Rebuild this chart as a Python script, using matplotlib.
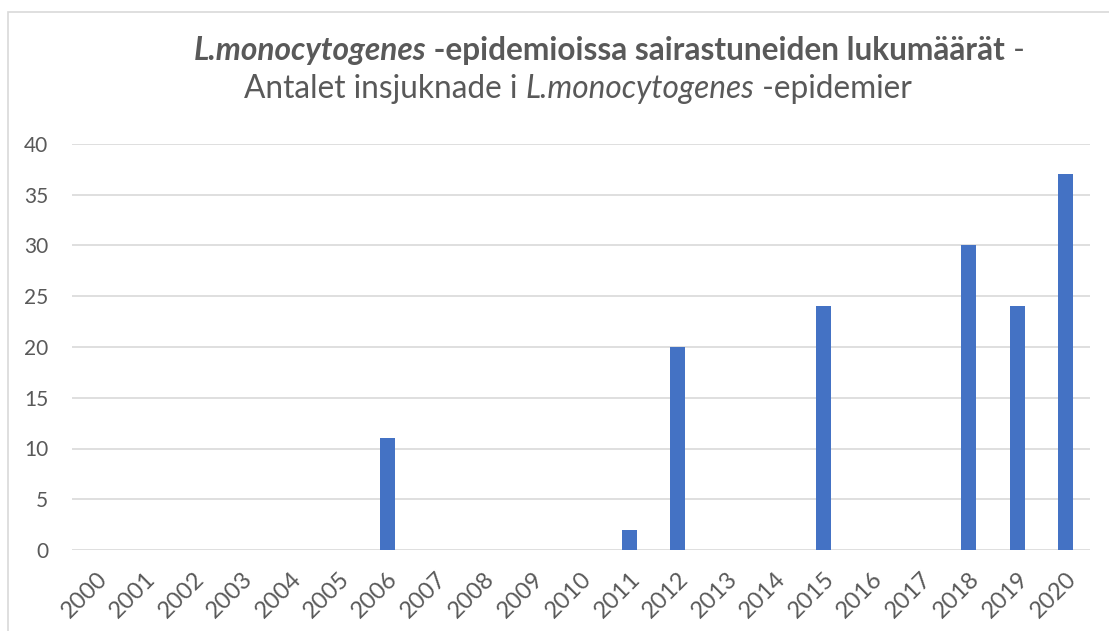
import matplotlib.pyplot as plt
from matplotlib.patches import Rectangle

# ─── DATA ──────────────────────────────────────────────────────────────────
years = [str(y) for y in range(2000, 2021)]
cases = [0, 0, 0, 0, 0, 0, 11, 0, 0, 0, 0, 2, 20, 0, 0, 24, 0, 0, 30, 24, 37]
y_ticks = [0, 5, 10, 15, 20, 25, 30, 35, 40]

title_line1 = [("L.monocytogenes", "bold", "italic"),
               (" -epidemioissa sairastuneiden lukumäärät", "bold", "normal"),
               (" -", "normal", "normal")]
title_line2 = [("Antalet insjuknade i ", "normal", "normal"),
               ("L.monocytogenes", "normal", "italic"),
               (" -epidemier", "normal", "normal")]

# ─── STYLE ─────────────────────────────────────────────────────────────────
TEXT = "#595959"
GRID = "#d9d9d9"
BAR = "#4472C4"
plt.rcParams["font.family"] = ["Lato", "DejaVu Sans"]

W, H = 1109, 631
fig = plt.figure(figsize=(W / 100, H / 100), dpi=100)

# chart frame (extends past right/bottom edge like the source crop)
fig.patches.append(Rectangle((8 / W, -0.2), 1.2, 1.2 - 12 / H, transform=fig.transFigure,
                             fill=False, edgecolor=GRID, linewidth=1.2))

ax = fig.add_axes([72 / W, 1 - 550 / H, (1090 - 72) / W, (550 - 144) / H])
x = range(len(years))
ax.bar(x, cases, width=0.31, color=BAR, zorder=3)
ax.set_xlim(-0.5, len(years) - 0.5)
ax.set_ylim(0, 40)
ax.set_yticks(y_ticks)
ax.set_xticks(list(x))
ax.set_xticklabels(years, rotation=45, ha="right", rotation_mode="anchor")
ax.tick_params(axis="both", length=0, colors=TEXT)
ax.tick_params(axis="y", pad=17, labelsize=15)
ax.tick_params(axis="x", pad=13, labelsize=17)
ax.grid(axis="y", color=GRID, linewidth=1.2, zorder=0)
for s in ax.spines.values():
    s.set_visible(False)


def centered_line(parts, cx, y, size):
    renderer = fig.canvas.get_renderer()
    arts = []
    for txt, weight, style in parts:
        t = fig.text(0, y, txt, fontsize=size, fontweight=weight, fontstyle=style,
                     color=TEXT, ha="left", va="baseline")
        arts.append(t)
    widths = [a.get_window_extent(renderer).width / W for a in arts]
    xpos = cx - sum(widths) / 2
    for a, w in zip(arts, widths):
        a.set_x(xpos)
        xpos += w


centered_line(title_line1, 609 / W, 1 - 60 / H, 22.8)
centered_line(title_line2, 578 / W, 1 - 98 / H, 22.8)

fig.savefig("out.png", dpi=100)
